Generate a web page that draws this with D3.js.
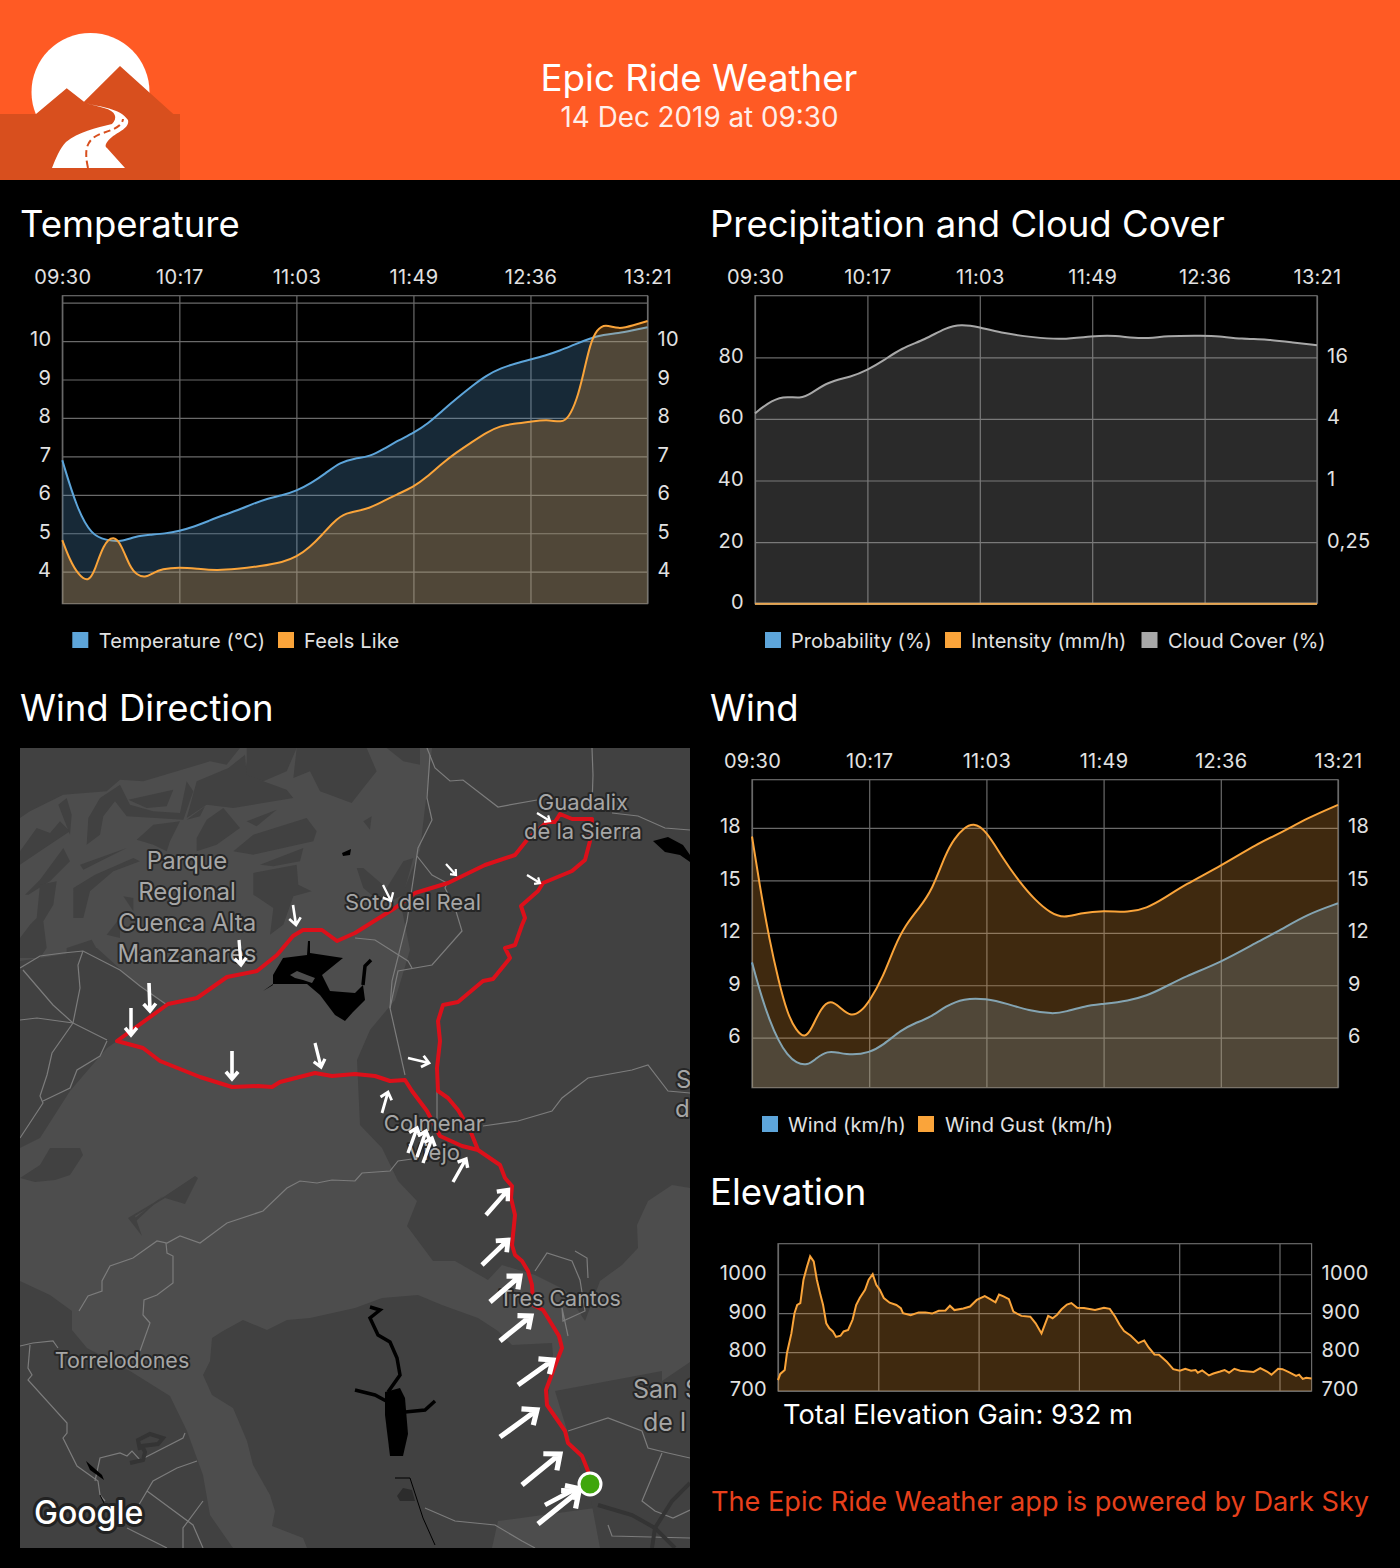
<!DOCTYPE html>
<html>
<head>
<meta charset="utf-8">
<title>Epic Ride Weather</title>
<script src="https://cdn.jsdelivr.net/npm/d3@7"></script>
<style>
html, body { margin: 0; padding: 0; background: #000; }
svg { display: block; font-family: Inter, "Noto Sans", sans-serif; }
</style>
</head>
<body>
<script>
// values. x of the weather charts = position on the time ticks (0..5)
const timeLabels = ["09:30", "10:17", "11:03", "11:49", "12:36", "13:21"];

const tempT = [0, .125, .25, .375, .5, .625, .75, .875, 1, 1.125, 1.25, 1.375, 1.5, 1.625, 1.75, 1.875, 2, 2.125, 2.25, 2.375, 2.5, 2.625, 2.75, 2.875, 3, 3.125, 3.25, 3.375, 3.5, 3.625, 3.75, 3.875, 4, 4.125, 4.25, 4.375, 4.5, 4.625, 4.75, 4.875, 5];
const temperature = [6.9, 5.64, 4.95, 4.82, 4.77, 4.92, 4.96, 4.99, 5.06, 5.17, 5.32, 5.47, 5.6, 5.76, 5.9, 5.98, 6.1, 6.3, 6.56, 6.85, 6.95, 6.99, 7.2, 7.42, 7.61, 7.85, 8.2, 8.52, 8.83, 9.11, 9.3, 9.42, 9.52, 9.62, 9.75, 9.91, 10.06, 10.17, 10.2, 10.28, 10.36];

const feelsT = [0, .066, .137, .222, .279, .35, .442, .507, .578, .635, .707, .778, .849, 1, 1.148, 1.319, 1.49, 1.689, 1.889, 2, 2.117, 2.217, 2.316, 2.416, 2.6, 2.744, 2.858, 3, 3.114, 3.242, 3.37, 3.499, 3.627, 3.741, 3.855, 4, 4.14, 4.268, 4.325, 4.396, 4.453, 4.51, 4.567, 4.638, 4.752, 4.88, 5];
const feelsLike = [4.82, 4.29, 3.92, 3.72, 4.03, 4.72, 4.95, 4.68, 4.12, 3.92, 3.84, 3.97, 4.07, 4.12, 4.08, 4.03, 4.07, 4.14, 4.25, 4.38, 4.64, 4.95, 5.29, 5.54, 5.61, 5.84, 6.01, 6.2, 6.46, 6.81, 7.11, 7.37, 7.63, 7.79, 7.85, 7.9, 7.96, 7.88, 8.0, 8.46, 9.15, 9.93, 10.3, 10.45, 10.3, 10.41, 10.52];

const cloudT = [0, .107, .246, .405, .504, .643, .861, 1, 1.139, 1.298, 1.516, 1.694, 1.833, 2, 2.17, 2.488, 2.726, 3, 3.2, 3.44, 3.66, 4, 4.115, 4.333, 4.55, 4.79, 5];
const cloudCover = [61.8, 65, 67.6, 66.5, 68.3, 72, 73.7, 75.9, 78.8, 82.9, 85.8, 89.6, 90.8, 89.8, 88, 86.4, 85.7, 86.9, 87.2, 85.8, 87, 87, 86.9, 85.9, 85.9, 84.8, 83.9];
const precipT = [0, 1, 2, 3, 4, 5];
const probability = [0, 0, 0, 0, 0, 0];
const intensity = [0, 0, 0, 0, 0, 0];
const intensityTicks = [0.25, 1, 4, 16];

const gustT = [0, .072, .149, .225, .301, .377, .453, .51, .586, .67, .758, .845, .929, 1, 1.12, 1.215, 1.31, 1.424, 1.538, 1.653, 1.729, 1.805, 1.889, 1.995, 2.148, 2.281, 2.414, 2.548, 2.662, 2.795, 3, 3.214, 3.366, 3.519, 3.69, 4, 4.318, 4.509, 4.737, 5];
const windGust = [17.51, 14.45, 11.59, 9.3, 7.39, 6.4, 5.95, 6.53, 7.68, 8.2, 7.68, 7.2, 7.49, 8.06, 9.49, 11.21, 12.45, 13.4, 14.45, 16.55, 17.41, 17.98, 18.3, 17.89, 16.17, 14.93, 13.88, 13.12, 12.85, 13.12, 13.29, 13.15, 13.4, 13.98, 14.74, 15.83, 17.13, 17.7, 18.56, 19.32];
const windT = [0, .072, .149, .225, .301, .377, .472, .548, .644, .739, .853, 1, 1.12, 1.272, 1.386, 1.519, 1.653, 1.805, 1.995, 2.186, 2.357, 2.567, 2.681, 2.833, 3, 3.214, 3.366, 3.519, 3.69, 4, 4.318, 4.509, 4.737, 5];
const wind = [10.31, 8.54, 7.01, 5.83, 5.01, 4.55, 4.4, 4.82, 5.25, 5.14, 5.0, 5.14, 5.58, 6.44, 6.82, 7.15, 7.81, 8.25, 8.25, 7.93, 7.55, 7.35, 7.49, 7.81, 7.93, 8.12, 8.39, 8.88, 9.49, 10.31, 11.5, 12.16, 13.06, 13.69];

const elevDist = [0, .45, 1.34, 1.78, 2.67, 3.29, 3.83, 4.45, 5.08, 5.79, 6.41, 7.12, 7.75, 8.46, 8.99, 9.62, 10.24, 10.95, 11.58, 12.47, 13.09, 13.98, 14.87, 15.58, 16.3, 17.36, 18.08, 18.88, 19.59, 20.3, 21.1, 22.26, 23.6, 24.49, 24.93, 26.45, 28.05, 29.39, 30.72, 32.06, 33.39, 34.28, 35.17, 36.95, 38.29, 39.63, 41.23, 42.3, 43.37, 44.08, 44.97, 46.04, 46.93, 48.53, 50.31, 51.38, 52.54, 53.87, 54.76, 55.65, 56.54, 57.61, 58.5, 59.66, 61, 63.22, 65, 66.16, 67.23, 68.12, 69.01, 70.35, 71.86, 73.02, 73.91, 75.07, 75.96, 77.47, 78.81, 80.14, 81.21, 82.37, 83.26, 83.7, 84.59, 85.93, 86.82, 88.16, 89.05, 89.94, 91, 92.16, 94.84, 96.17, 97.51, 98.4, 99.73, 100.6, 101.96, 103.3, 103.9, 104.63, 105.34, 106.4];
const elevation = [728, 744, 754, 797, 848, 900, 921, 926, 986, 1020, 1046, 1033, 986, 947, 921, 874, 861, 853, 839, 842, 853, 857, 883, 921, 939, 960, 986, 1000, 973, 960, 939, 927, 921, 913, 900, 895, 902, 902, 899, 906, 907, 919, 908, 912, 917, 934, 944, 936, 928, 948, 943, 936, 904, 893, 891, 874, 848, 893, 887, 896, 910, 922, 926, 914, 913, 908, 914, 911, 891, 870, 854, 842, 823, 830, 812, 794, 793, 776, 756, 752, 757, 752, 754, 747, 753, 740, 745, 750, 754, 747, 757, 752, 749, 759, 750, 742, 757, 756, 748, 739, 742, 731, 734, 732];
const elevDistTicks = [0, 20, 40, 60, 80, 100];

// map data, in screen px of the map image
const route = [[590,1484],[588,1471],[582,1456],[568,1443],[565,1431],[547,1405],[546,1390],[553,1371],[562,1348],[559,1336],[548,1318],[543,1310],[533,1305],[532,1285],[528,1271],[522,1261],[515,1255],[512,1245],[515,1215],[511,1198],[512,1186],[505,1178],[500,1165],[478,1150],[470,1130],[458,1110],[448,1098],[438,1091],[437,1068],[440,1041],[438,1021],[443,1005],[458,1002],[483,981],[493,979],[510,958],[505,948],[515,945],[522,925],[525,918],[521,906],[538,891],[543,883],[572,871],[585,860],[590,841],[592,819],[572,819],[560,814],[555,822],[547,822],[527,840],[515,855],[485,865],[448,883],[415,893],[395,908],[355,933],[337,941],[322,930],[303,930],[293,936],[277,955],[257,971],[227,977],[197,998],[168,1004],[117,1041],[143,1048],[160,1061],[200,1077],[232,1087],[258,1086],[272,1087],[280,1082],[315,1073],[332,1076],[355,1074],[375,1076],[390,1081],[405,1080],[412,1091],[427,1111],[440,1136],[462,1146],[478,1150]];
// wind arrows: tail x, tail y, head x, head y
const windArrows = [[538,1524,579,1491],[545,1505,577,1488],[522,1485,560,1454],[500,1437,537,1410],[518,1385,553,1360],[500,1341,531,1316],[490,1302,520,1276],[482,1265,508,1240],[486,1215,508,1190],[453,1182,466,1159],[423,1163,432,1138],[417,1157,426,1131],[408,1153,417,1128],[382,1113,388,1092],[408,1058,429,1063],[527,875,540,883],[446,864,456,875],[537,813,550,821],[383,885,391,901],[293,905,296,925],[239,940,241,965],[149,983,150,1011],[131,1008,131,1035],[232,1051,232,1079],[315,1043,321,1067]];
const startPoint = [590, 1484];

const darkAreas = [
  [[432,748],[690,748],[690,1188],[672,1185],[648,1201],[637,1225],[638,1248],[622,1265],[600,1281],[585,1321],[565,1290],[535,1275],[502,1265],[488,1280],[455,1261],[433,1261],[407,1226],[417,1201],[398,1181],[382,1148],[360,1125],[357,1060],[370,1030],[395,1000],[410,950],[400,900],[420,850]],
  [[20,961],[40,958],[83,951],[97,948],[130,978],[167,1005],[117,1041],[107,1048],[70,1091],[40,1138],[20,1148]],
  [[20,1281],[50,1295],[72,1311],[72,1330],[87,1348],[130,1371],[170,1396],[187,1431],[203,1475],[210,1515],[233,1548],[20,1548]],
  [[355,1308],[382,1298],[418,1295],[442,1305],[478,1318],[498,1331],[512,1345],[552,1343],[553,1355],[547,1408],[575,1448],[595,1508],[498,1521],[492,1548],[307,1548],[303,1538],[272,1526],[275,1511],[270,1495],[253,1465],[247,1441],[233,1408],[212,1395],[203,1375],[210,1361],[212,1338],[223,1331],[243,1320],[267,1330],[287,1320],[310,1318]],
  [[555,1391],[662,1371],[662,1381],[690,1362],[690,1548],[600,1548],[590,1495],[570,1440]],
  [[20,1178],[40,1165],[50,1148],[80,1148],[83,1155],[70,1175],[55,1180],[35,1182]],
  [[135,1218],[163,1196],[135,1222]],
  [[128,1218],[165,1196],[195,1176],[198,1178],[185,1204],[165,1198],[135,1216],[142,1236]]
];
// mountain patches, drawn in a 1200x630 grid over the top left of the map
const mountainPatches = [
  [[0,0],[660,0],[620,50],[570,40],[370,100],[300,95],[260,130],[130,140],[30,190],[0,210]],
  [[680,0],[830,0],[800,70],[730,100],[675,80],[680,40]],
  [[625,60],[675,20],[680,80],[730,100],[800,125],[820,150],[640,180],[560,170],[500,210],[530,100]],
  [[860,0],[1040,0],[1070,70],[1030,120],[995,165],[900,130],[870,70],[820,90],[830,0]],
  [[1100,0],[1200,0],[1200,50],[1150,40]],
  [[325,155],[460,125],[440,175],[380,180]],
  [[205,210],[240,150],[300,110],[330,170],[400,190],[480,195],[500,100],[520,130],[490,215],[320,205],[285,160],[250,205],[240,260],[200,290]],
  [[680,220],[770,185],[710,235]],
  [[700,260],[860,210],[890,250],[880,280],[700,320],[640,310]],
  [[720,350],[850,300],[840,340],[760,355]],
  [[700,375],[830,350],[835,410],[875,430],[820,445],[790,530],[750,560],[760,480],[700,440]],
  [[180,350],[320,300],[190,365]],
  [[160,510],[160,420],[225,380],[340,330],[360,340],[280,370],[210,430],[190,510]],
  [[15,440],[60,395],[130,300],[150,340],[90,400],[25,440]],
  [[50,510],[60,410],[110,400],[100,470],[70,520],[80,600],[60,630],[0,630],[0,570],[30,530]],
  [[0,310],[50,240],[90,255],[120,220],[150,250],[60,310],[0,350]],
  [[115,170],[140,150],[155,200],[150,260]],
  [[500,215],[555,175],[540,205]],
  [[530,270],[560,215],[610,180],[660,240],[590,290],[530,310]],
  [[350,275],[400,230],[480,220],[450,280],[440,310],[400,290]],
  [[1010,360],[1030,360],[1100,420],[1150,340],[1180,330],[1150,440],[1090,470],[1030,420]],
  [[1030,220],[1055,205],[1050,245]],
  [[260,560],[300,510],[300,570]],
  [[310,445],[340,450],[340,490]],
  [[140,600],[215,575],[240,620],[140,630]]
];
const pondAreas = [
  [[397,1496],[403,1488],[412,1490],[415,1501],[400,1501]]
];
const waterAreas = [
  [[263,991],[273,985],[273,975],[283,958],[307,955],[308,941],[310,941],[310,953],[343,958],[322,975],[330,991],[355,993],[363,985],[365,1000],[353,1012],[345,1021],[335,1015],[320,995],[307,984],[273,984]],
  [[385,1392],[400,1388],[405,1398],[408,1434],[403,1456],[390,1456],[385,1415]],
  [[653,841],[668,837],[683,845],[690,855],[690,862],[680,855],[665,852]],
  [[342,853],[351,849],[350,855],[343,856]],
  [[86,1461],[102,1475],[104,1480],[90,1470]]
];
const lakeIsland = [[290,975],[297,971],[307,975],[315,978],[312,983],[303,980],[295,978]];
const waterLines = [
  [[370,1307],[380,1310],[370,1318],[378,1335],[390,1342],[397,1358],[400,1375],[388,1392]],
  [[355,1390],[375,1395],[388,1402]],
  [[405,1412],[425,1410],[435,1401]],
  [[363,985],[365,966],[371,960]]
];
const thinDarkLines = [
  [[395,1478],[410,1478],[423,1518],[435,1545]],
  [[105,1505],[100,1495]]
];
const darkRoads = [
  [[598,1505],[632,1515],[655,1528],[675,1548]],
  [[690,1483],[672,1501],[655,1528],[652,1548]],
  [[140,1450],[138,1440],[150,1434],[163,1438],[158,1444],[142,1446],[145,1452],[143,1460],[130,1463]]
];
const roads = [
  [[20,968],[40,956],[63,953],[83,951],[120,970],[140,986],[167,1005]],
  [[83,951],[78,965],[80,988],[73,1023],[107,1040]],
  [[23,970],[53,1005],[73,1023]],
  [[20,1020],[37,1018],[73,1023]],
  [[73,1023],[52,1053],[47,1075],[40,1096],[43,1103],[20,1138]],
  [[43,1101],[70,1088],[77,1070],[100,1056],[107,1041]],
  [[427,748],[435,768],[450,781],[463,780],[498,807],[537,800]],
  [[430,755],[427,798],[432,820],[418,848],[407,921],[392,981],[390,1008],[405,1075]],
  [[417,856],[432,875],[447,883],[445,888],[455,908],[462,931],[432,965],[398,971],[390,1008]],
  [[355,938],[375,940],[408,961],[412,968]],
  [[592,748],[593,775],[592,805]],
  [[612,813],[638,816],[665,828],[690,830]],
  [[483,1126],[518,1121],[552,1111],[562,1098],[588,1078],[632,1070],[648,1065],[668,1091],[690,1093]],
  [[437,1091],[437,1121]],
  [[79,1311],[88,1296],[102,1291],[102,1281],[110,1266],[133,1258],[157,1241],[167,1243],[180,1236],[200,1243],[227,1223],[263,1211],[287,1188],[300,1181],[317,1183],[332,1180],[355,1181],[362,1173],[390,1171],[398,1161],[412,1159]],
  [[166,1243],[167,1253],[173,1256],[173,1283],[157,1295],[144,1300],[143,1315],[150,1323],[140,1351]],
  [[20,1346],[33,1343],[53,1341],[58,1348]],
  [[30,1345],[28,1368],[32,1375],[28,1380],[67,1423],[67,1433],[63,1438],[77,1466],[98,1481],[100,1495],[105,1501]],
  [[95,1481],[100,1458],[120,1453],[127,1456],[132,1451],[140,1460],[183,1438],[185,1433]],
  [[137,1508],[153,1481],[177,1468],[197,1461]],
  [[147,1491],[193,1525],[203,1548]],
  [[127,1528],[167,1548]],
  [[203,1501],[183,1528],[183,1548]],
  [[535,1271],[547,1253],[572,1261],[580,1280],[585,1311],[563,1321],[562,1308],[568,1336]],
  [[575,1251],[587,1258],[588,1278]],
  [[568,1431],[608,1418],[642,1431],[648,1448],[668,1453],[690,1458]],
  [[662,1453],[642,1501],[655,1511],[673,1518],[690,1510]],
  [[608,1525],[612,1536],[690,1538]],
  [[425,1508],[455,1521],[495,1525],[522,1541],[535,1548]]
];
// name, x, y, anchor, size
const placeLabels = [
  ["Parque", 187, 869, "middle", 24], ["Regional", 187, 900, "middle", 24], ["Cuenca Alta", 187, 931, "middle", 24], ["Manzanares", 187, 962, "middle", 24],
  ["Soto del Real", 413, 910, "middle", 22], ["Guadalix", 583, 810, "middle", 22], ["de la Sierra", 583, 839, "middle", 22],
  ["Colmenar", 434, 1131, "middle", 22], ["Viejo", 434, 1160, "middle", 22], ["Tres Cantos", 560, 1306, "middle", 21.5],
  ["Torrelodones", 122, 1368, "middle", 21.5], ["San S", 633, 1398, "start", 25], ["de l", 643, 1431, "start", 25],
  ["S", 676, 1088, "start", 24], ["d", 675, 1117, "start", 24]
];

const blue = "#5DA5DA", orange = "#FAA43A", grey = "#A8A8A8";
const gridColor = "#6a6a6a", labelColor = "#e2e2e2";

var svg = d3.select("body").append("svg").attr("width", 1400).attr("height", 1568);

// header
svg.append("rect").attr("width", 1400).attr("height", 180).attr("fill", "#FF5A24");
svg.append("circle").attr("cx", 90.5).attr("cy", 92).attr("r", 59).attr("fill", "#fff");
svg.append("path").attr("fill", "#D84F1E")
  .attr("d", "M0,114 L36,114 L66.7,88.3 L84,101.7 L120,66 L173.3,114 L180,114 L180,180 L0,180 Z");
svg.append("path").attr("fill", "#fff")
  .attr("d", "M85,103 C100,107 120,108 128,120 C130,128 118,132 112,137 C106,142 104,146 107,148 L125,168 L52,168 C56,158 60,148 66,142 C78,132 96,128 112,124 C118,118 116,111 104,108 C98,106 92,105 85,103 Z");
svg.append("path").attr("fill", "none").attr("stroke", "#D84F1E").attr("stroke-width", 2).attr("stroke-dasharray", "7,4")
  .attr("d", "M88,168 C84,150 86,140 100,134 C112,130 122,127 123,119");
svg.append("text").attr("x", 699).attr("y", 91).attr("text-anchor", "middle").attr("fill", "#fff").attr("font-size", 36.7).text("Epic Ride Weather");
svg.append("text").attr("x", 699.5).attr("y", 127).attr("text-anchor", "middle").attr("fill", "#fff").attr("font-size", 27.8).attr("opacity", 0.9).text("14 Dec 2019 at 09:30");

function sectionTitle(txt, x, y) {
  svg.append("text").attr("x", x).attr("y", y).attr("fill", "#fff").attr("font-size", 36.5).text(txt);
}
sectionTitle("Temperature", 20, 237);
sectionTitle("Precipitation and Cloud Cover", 710, 237);
sectionTitle("Wind Direction", 20, 721);
sectionTitle("Wind", 710, 721);
sectionTitle("Elevation", 710, 1205);

function styleAxis(g) {
  g.select(".domain").remove();
  g.selectAll("text").attr("fill", labelColor).attr("font-size", 20).attr("font-family", "Inter").attr("letter-spacing", 0.3);
}

// one weather chart: box, grid, top/left/right labels, then the series
function drawChart(c) {
  var x = d3.scaleLinear().domain(c.xDomain).range([c.left, c.right]);
  var y = d3.scaleLinear().domain(c.yDomain).range([c.bottom, c.top]);

  var xGrid = d3.axisBottom(x).tickValues(c.xTicks).tickSize(c.bottom - c.top).tickFormat("");
  svg.append("g").attr("transform", "translate(0," + c.top + ")").call(xGrid)
    .call(g => g.select(".domain").remove())
    .selectAll("line").attr("stroke", gridColor).attr("stroke-width", 1.2);
  var yGrid = d3.axisLeft(y).tickValues(c.yGrid).tickSize(c.left - c.right).tickFormat("");
  svg.append("g").attr("transform", "translate(" + c.left + ",0)").call(yGrid)
    .call(g => g.select(".domain").remove())
    .selectAll("line").attr("stroke", gridColor).attr("stroke-width", 1.2);
  svg.append("rect").attr("x", c.left).attr("y", c.top).attr("width", c.right - c.left).attr("height", c.bottom - c.top)
    .attr("fill", "none").attr("stroke", gridColor).attr("stroke-width", 1.2);

  if (c.timeAxis) {
    var xLabels = d3.axisTop(x).tickValues(d3.range(timeLabels.length)).tickSize(0).tickPadding(12).tickFormat(i => timeLabels[i]);
    svg.append("g").attr("transform", "translate(0," + c.top + ")").call(xLabels).call(styleAxis);
  }
  var yLeft = d3.axisLeft(y).tickValues(c.yLabels).tickSize(0).tickPadding(c.padLeft).tickFormat(d3.format("d"));
  svg.append("g").attr("transform", "translate(" + c.left + ",-1.5)").call(yLeft).call(styleAxis);
  var yRight = c.rightScale
    ? d3.axisRight(c.rightScale).tickValues(intensityTicks).tickSize(0).tickPadding(c.padRight).tickFormat(d => String(d).replace(".", ","))
    : d3.axisRight(y).tickValues(c.yLabels).tickSize(0).tickPadding(c.padRight).tickFormat(d3.format("d"));
  svg.append("g").attr("transform", "translate(" + c.right + ",-1.5)").call(yRight).call(styleAxis);

  c.series.forEach(function (s) {
    var pts = s.t.map((d, i) => [d, s.v[i]]);
    var curve = c.curve || d3.curveBasis;
    var area = d3.area().x(d => x(d[0])).y0(c.bottom).y1(d => y(d[1])).curve(curve);
    var line = d3.line().x(d => x(d[0])).y(d => y(d[1])).curve(curve);
    svg.append("path").datum(pts).attr("d", area).attr("fill", s.color).attr("fill-opacity", 0.25);
    svg.append("path").datum(pts).attr("d", line).attr("fill", "none").attr("stroke", s.color).attr("stroke-width", 2);
  });
}

function legend(items, y, spacing) {
  items.forEach(function (it) {
    svg.append("rect").attr("x", it[2]).attr("y", y).attr("width", 16).attr("height", 16).attr("fill", it[1]);
    svg.append("text").attr("x", it[3]).attr("y", y + 16).attr("fill", labelColor).attr("font-size", 20).attr("letter-spacing", spacing).text(it[0]);
  });
}

var hours = d3.range(timeLabels.length);

drawChart({
  left: 62.3, right: 647.5, top: 295.7, bottom: 603.7,
  xDomain: [0, 5], yDomain: [3.167, 11.18], xTicks: hours, timeAxis: true,
  yGrid: [4, 5, 6, 7, 8, 9, 10, 11], yLabels: [4, 5, 6, 7, 8, 9, 10], padLeft: 11, padRight: 10,
  series: [{ t: tempT, v: temperature, color: blue }, { t: feelsT, v: feelsLike, color: orange }]
});
legend([["Temperature (°C)", blue, 72.3, 98.7], ["Feels Like", orange, 278, 304]], 632, 0.15);

// right axis of the precipitation chart is a base 4 log scale, lined up with 20..80 %
drawChart({
  left: 755, right: 1317, top: 295.7, bottom: 603.7,
  xDomain: [0, 5], yDomain: [0, 100], xTicks: hours, timeAxis: true,
  yGrid: [0, 20, 40, 60, 80], yLabels: [0, 20, 40, 60, 80], padLeft: 11, padRight: 10,
  rightScale: d3.scaleLog().base(4).domain([0.25, 16]).range([542.1, 357.3]),
  series: [
    { t: precipT, v: probability, color: blue },
    { t: precipT, v: intensity, color: orange },
    { t: cloudT, v: cloudCover, color: grey }
  ]
});
legend([["Probability (%)", blue, 765, 791], ["Intensity (mm/h)", orange, 945, 971], ["Cloud Cover (%)", grey, 1141.5, 1168]], 632, 0.03);

drawChart({
  left: 752, right: 1338, top: 779.7, bottom: 1087.7,
  xDomain: [0, 5], yDomain: [3.14, 20.76], xTicks: hours, timeAxis: true,
  yGrid: [6, 9, 12, 15, 18], yLabels: [6, 9, 12, 15, 18], padLeft: 11, padRight: 10,
  series: [{ t: windT, v: wind, color: blue }, { t: gustT, v: windGust, color: orange }]
});
legend([["Wind (km/h)", blue, 762, 788], ["Wind Gust (km/h)", orange, 918, 945]], 1116, 0.15);

drawChart({
  left: 778, right: 1311.6, top: 1243.7, bottom: 1391,
  xDomain: [0, 106.4], yDomain: [700, 1078.5], xTicks: elevDistTicks, timeAxis: false,
  yGrid: [700, 800, 900, 1000], yLabels: [700, 800, 900, 1000], padLeft: 11, padRight: 10,
  curve: d3.curveLinear,
  series: [{ t: elevDist, v: elevation, color: orange }]
});
svg.append("text").attr("x", 783).attr("y", 1424).attr("fill", "#fff").attr("font-size", 27.2).text("Total Elevation Gain: 932 m");
svg.append("text").attr("x", 711).attr("y", 1511).attr("fill", "#E8401C").attr("font-size", 27.15).text("The Epic Ride Weather app is powered by Dark Sky");

// map
var mapX = d3.scaleLinear().domain([20, 690]).range([20, 690]);
var mapY = d3.scaleLinear().domain([748, 1548]).range([748, 1548]);
var gridX = d3.scaleLinear().domain([0, 1200]).range([20, 420]);
var gridY = d3.scaleLinear().domain([0, 630]).range([748, 958]);
var mapLine = d3.line().x(d => mapX(d[0])).y(d => mapY(d[1]));
var gridLine = d3.line().x(d => gridX(d[0])).y(d => gridY(d[1]));

svg.append("clipPath").attr("id", "mapClip").append("rect").attr("x", 20).attr("y", 748).attr("width", 670).attr("height", 800);
var map = svg.append("g").attr("clip-path", "url(#mapClip)");
map.append("rect").attr("x", 20).attr("y", 748).attr("width", 670).attr("height", 800).attr("fill", "#4d4d4d");

map.selectAll(".dark").data(darkAreas).enter().append("path").attr("d", d => mapLine(d) + "Z").attr("fill", "#414141");
map.selectAll(".patch").data(mountainPatches).enter().append("path").attr("d", d => gridLine(d) + "Z").attr("fill", "#414141");
map.selectAll(".pond").data(pondAreas).enter().append("path").attr("d", d => mapLine(d) + "Z").attr("fill", "#2c2c2c");
map.selectAll(".road").data(roads).enter().append("path").attr("d", mapLine).attr("fill", "none").attr("stroke", "#7c7c7c").attr("stroke-width", 1.2);
map.selectAll(".darkroad").data(darkRoads).enter().append("path").attr("d", mapLine).attr("fill", "none").attr("stroke", "#343434").attr("stroke-width", 4);
map.selectAll(".water").data(waterAreas).enter().append("path").attr("d", d => mapLine(d) + "Z").attr("fill", "#000");
map.append("path").datum(lakeIsland).attr("d", d => mapLine(d) + "Z").attr("fill", "#4d4d4d");
map.selectAll(".waterline").data(waterLines).enter().append("path").attr("d", mapLine).attr("fill", "none").attr("stroke", "#000").attr("stroke-width", 3.5);
map.selectAll(".thinline").data(thinDarkLines).enter().append("path").attr("d", mapLine).attr("fill", "none").attr("stroke", "#000").attr("stroke-width", 1);

// route under the place names, arrows on top of them
map.append("path").datum(route).attr("d", mapLine).attr("fill", "none").attr("stroke", "#DC101A").attr("stroke-width", 4).attr("stroke-linejoin", "round");

map.selectAll(".place").data(placeLabels).enter().append("text")
  .attr("x", d => d[1]).attr("y", d => d[2]).attr("text-anchor", d => d[3])
  .attr("font-size", d => d[4]).attr("fill", "#a6a6a6").attr("stroke", "#262626").attr("stroke-width", 4).attr("paint-order", "stroke").attr("stroke-linejoin", "round")
  .text(d => d[0]);

// arrow size follows the wind speed drawn by its length
windArrows.forEach(function (a) {
  var x1 = mapX(a[0]), y1 = mapY(a[1]), x2 = mapX(a[2]), y2 = mapY(a[3]);
  var len = Math.hypot(x2 - x1, y2 - y1), ang = Math.atan2(y2 - y1, x2 - x1);
  var barb = Math.max(len * 0.34, len < 17 ? 6 : 9), w = Math.min(Math.max(len * 0.13, 2.2), 5.2);
  var d = "M" + x1 + "," + y1 + "L" + x2 + "," + y2
    + "M" + (x2 - barb * Math.cos(ang - 0.7)) + "," + (y2 - barb * Math.sin(ang - 0.7))
    + "L" + x2 + "," + y2
    + "L" + (x2 - barb * Math.cos(ang + 0.7)) + "," + (y2 - barb * Math.sin(ang + 0.7));
  map.append("path").attr("d", d).attr("fill", "none").attr("stroke", "#fff").attr("stroke-width", w);
});

map.append("circle").attr("cx", mapX(startPoint[0])).attr("cy", mapY(startPoint[1])).attr("r", 11).attr("fill", "#3FA60C").attr("stroke", "#fff").attr("stroke-width", 3);

map.append("text").attr("x", 34).attr("y", 1524).attr("font-size", 32).attr("font-weight", 500).attr("fill", "#fff")
  .attr("stroke", "#222").attr("stroke-width", 6).attr("paint-order", "stroke").attr("stroke-linejoin", "round").text("Google");
</script>
</body>
</html>
